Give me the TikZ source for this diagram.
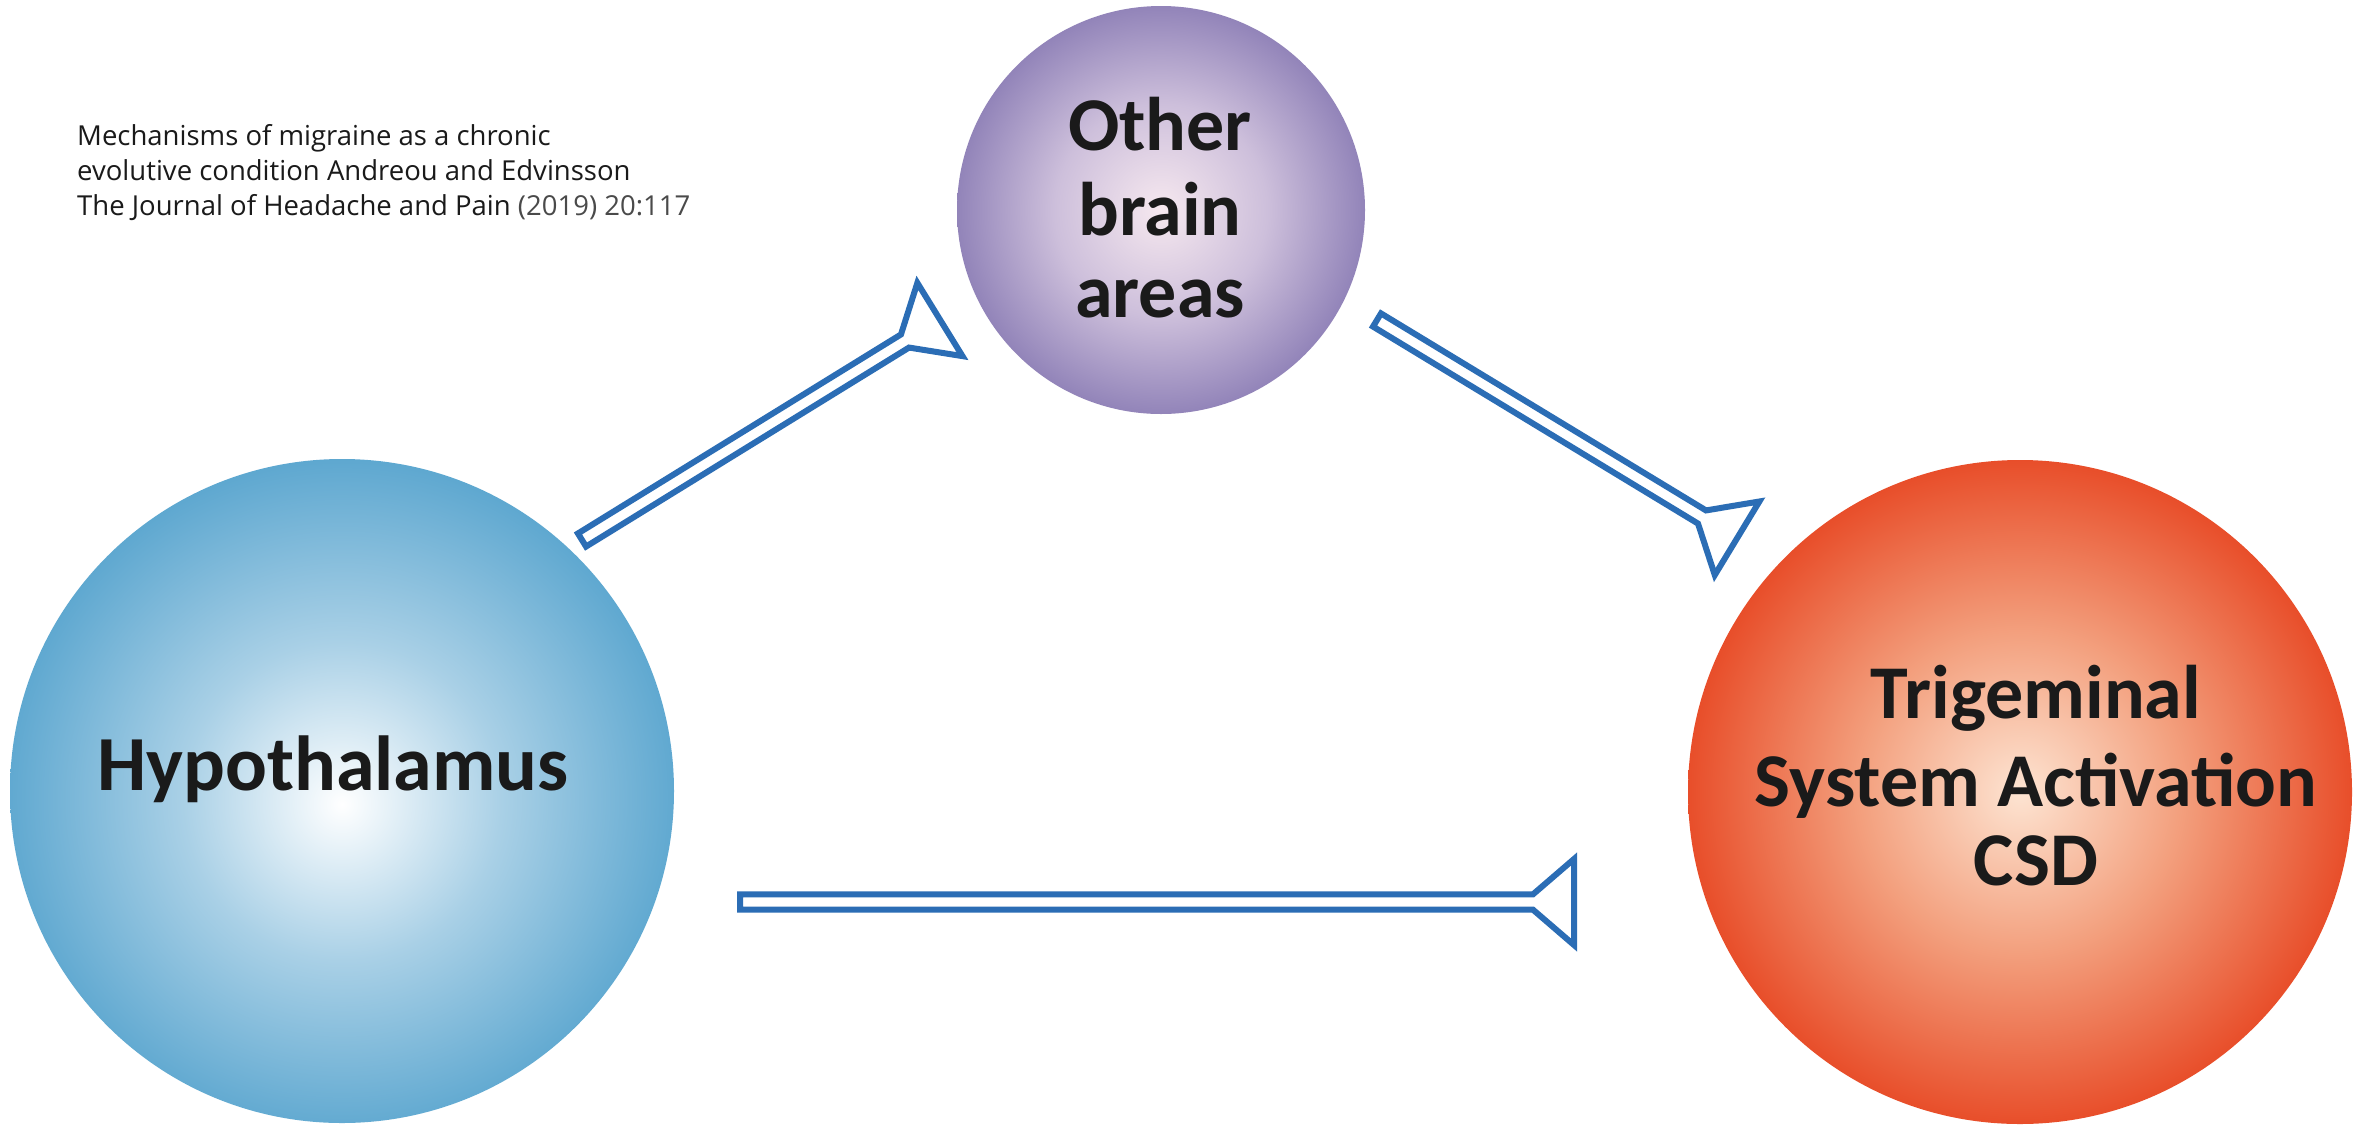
\documentclass[tikz,border=0pt]{standalone}
\usepackage{fontspec}
\usetikzlibrary{calc}
\newfontfamily\lblfont{Carlito}
\newfontfamily\citefont{Open Sans}
\definecolor{arrblue}{HTML}{2B6DB5}
\definecolor{txtdark}{HTML}{1A1A1A}
\definecolor{citelight}{HTML}{4A4A4A}
\definecolor{hypedge}{HTML}{5BA6CF}
\definecolor{hypmid}{HTML}{A9D0E6}
\definecolor{othedge}{HTML}{9284B9}
\definecolor{othmid}{HTML}{CDBFDB}
\definecolor{othcent}{HTML}{F6E8EF}
\definecolor{trigedge}{HTML}{E84E2A}
\definecolor{trigmid}{HTML}{F3A07E}
\definecolor{trigcent}{HTML}{FDE4D2}
\pgfdeclareradialshading{hypshade}{\pgfpoint{0bp}{-1bp}}{color(0bp)=(white); color(12bp)=(hypmid); color(26bp)=(hypedge); color(50bp)=(hypedge)}
\pgfdeclareradialshading{othshade}{\pgfpoint{0bp}{0bp}}{color(0bp)=(othcent); color(13bp)=(othmid); color(25bp)=(othedge); color(50bp)=(othedge)}
\pgfdeclareradialshading{trigshade}{\pgfpoint{0bp}{0bp}}{color(0bp)=(trigcent); color(12bp)=(trigmid); color(25bp)=(trigedge); color(50bp)=(trigedge)}
\def\aw{7.7pt}
\def\ad{41pt}
\def\ah{43pt}
\newcommand\hollowarrow[3]{%
  \coordinate (#3F) at ($(#2)!\ad!180:(#1)$);
  \coordinate (#3P1) at ($(#1)!\aw!90:(#2)$);
  \coordinate (#3P2) at ($(#2)!\aw!-90:(#1)$);
  \coordinate (#3P3) at ($(#3F)!\ah!-90:(#1)$);
  \coordinate (#3P4) at ($(#3F)!\ah!90:(#1)$);
  \coordinate (#3P5) at ($(#2)!\aw!90:(#1)$);
  \coordinate (#3P6) at ($(#1)!\aw!-90:(#2)$);
  \draw[arrline] (#3P1) -- (#3P2) -- (#3P3) -- (#3P4) -- (#3P5) -- (#3P6) -- cycle;
}
\tikzset{
  ball/.style={circle, inner sep=0pt, draw=none},
  arrline/.style={draw=arrblue, line width=6pt, line join=miter},
  bigtxt/.style={inner sep=0pt, anchor=base, text=txtdark, font=\lblfont\bfseries\fontsize{76}{88}\selectfont},
  hyptxt/.style={bigtxt, font=\lblfont\bfseries\fontsize{78}{88}\selectfont},
  citetxt/.style={inner sep=0pt, anchor=base west, text=txtdark, font=\citefont\fontsize{27.5}{35}\selectfont}
}
\begin{document}
\begin{tikzpicture}[x=1pt, y=-1pt]
\fill[white] (0,0) rectangle (2371,1125);
\useasboundingbox (0,0) rectangle (2371,1125);
% circles
\node[ball, minimum size=664pt, shading=hypshade] (hyp) at (342,791) {};
\node[ball, minimum size=408pt, shading=othshade] (oth) at (1161,210) {};
\node[ball, minimum size=664pt, shading=trigshade] (trig) at (2020,792) {};
% labels
\node[hyptxt] (hypL) at (333,790) {Hypothalamus};
\node[bigtxt] (othL1) at (1160,150) {Other};
\node[bigtxt] (othL2) at (1160,235) {brain};
\node[bigtxt] (othL3) at (1160,317) {areas};
\node[bigtxt] (trigL1) at (2036,718) {Trigeminal};
\node[bigtxt] (trigL2) at (2036,806) {System Activation};
\node[bigtxt] (trigL3) at (2036,885) {CSD};
% citation
\node[citetxt] (cite1) at (77,145) {Mechanisms of migraine as a chronic};
\node[citetxt] (cite2) at (77,180) {evolutive condition Andreou and Edvinsson};
\node[citetxt] (cite3) at (77,215) {The Journal of Headache and Pain \textcolor{citelight}{(2019) 20:117}};
% arrows
\coordinate (a1s) at (582,540);
\coordinate (a1e) at (905,341);
\hollowarrow{a1s}{a1e}{a1}
\coordinate (a2s) at (1377,320);
\coordinate (a2e) at (1702,517);
\hollowarrow{a2s}{a2e}{a2}
\coordinate (a3s) at (740,902);
\coordinate (a3e) at (1533,902);
\hollowarrow{a3s}{a3e}{a3}
\end{tikzpicture}
\end{document}
